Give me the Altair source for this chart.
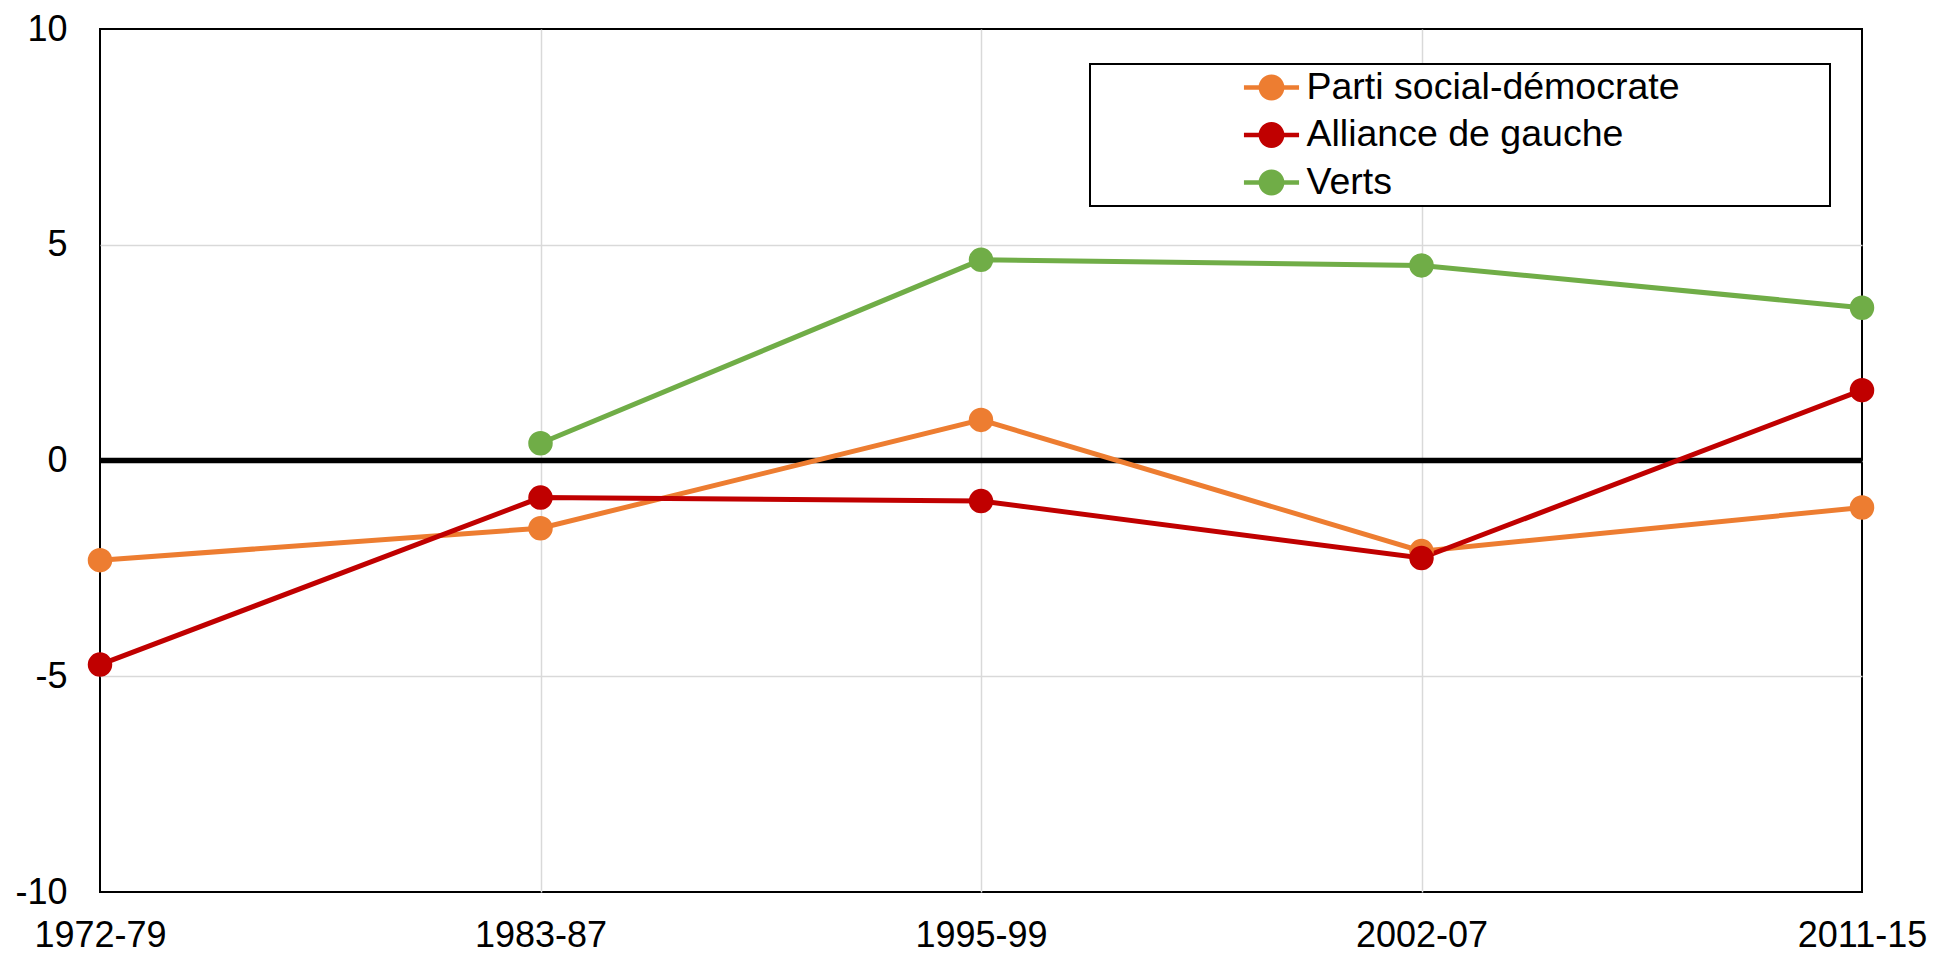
import altair as alt
import pandas as pd

periods = ["1972-79", "1983-87", "1995-99", "2002-07", "2011-15"]
series_names = ["Parti social-démocrate", "Alliance de gauche", "Verts"]
psd = [-2.31, -1.57, 0.94, -2.10, -1.09]
alliance = [-4.73, -0.86, -0.94, -2.26, 1.63]
verts = [None, 0.40, 4.65, 4.52, 3.54]
colors = ["#ED7D31", "#C00000", "#70AD47"]
y_ticks = [-10, -5, 0, 5, 10]
zero_line = [0]

rows = []
for name, vals in zip(series_names, [psd, alliance, verts]):
    for p, v in zip(periods, vals):
        if v is not None:
            rows.append({"period": p, "series": name, "value": v})
df = pd.DataFrame(rows)
zero_df = pd.DataFrame({"y": zero_line})

FONT = "Liberation Sans"
SYMBOL = ("M-1.45,-0.12L1.45,-0.12L1.45,0.12L-1.45,0.12Z "
          "M0.68,0A0.68,0.68,0,1,1,-0.68,0A0.68,0.68,0,1,1,0.68,0Z")
PAD = "\u00a0" * 14 + "\u200b"

x_grid_op = {"condition": {"test": f"datum.value == '{periods[0]}' || datum.value == '{periods[-1]}'",
                           "value": 0}, "value": 1}
y_grid_op = {"condition": {"test": "abs(datum.value) == 10", "value": 0}, "value": 1}

x = alt.X("period:O", sort=periods, title=None,
          scale=alt.Scale(type="point", padding=0),
          axis=alt.Axis(labelAngle=0, grid=True, gridOpacity=x_grid_op,
                        ticks=False, domain=False,
                        labelPadding=26, labelFontSize=36, labelFont=FONT,
                        labelColor="black"))
y = alt.Y("value:Q", title=None,
          scale=alt.Scale(domain=[-10, 10], nice=False, zero=False),
          axis=alt.Axis(values=y_ticks, grid=True, gridOpacity=y_grid_op,
                        labelExpr="datum.value < 0 ? '-' + abs(datum.value) : '' + datum.value",
                        ticks=False, domain=False, labelPadding=33,
                        labelFontSize=36, labelFont=FONT, labelColor="black"))
color_scale = alt.Scale(domain=series_names, range=colors)

base = alt.Chart(df)

lines = base.mark_line(strokeWidth=5).encode(
    x=x, y=y,
    color=alt.Color("series:N", scale=color_scale, legend=None),
    detail="series:N",
)

points = base.mark_circle(size=600, opacity=1).encode(
    x=x, y=y,
    color=alt.Color("series:N", scale=color_scale,
                    legend=alt.Legend(
                        title=None, orient="none", legendX=990, legendY=35,
                        symbolType=SYMBOL, symbolSize=1444,
                        symbolStrokeWidth=0, symbolOpacity=1,
                        symbolOffset=158, labelOffset=16,
                        labelExpr=f"datum.label + '{PAD}'",
                        labelLimit=2000, padding=4.5, rowPadding=9.5,
                        strokeColor="black", fillColor="white",
                        labelFontSize=37.5, labelFont=FONT, labelColor="black")),
)

zero = alt.Chart(zero_df).mark_rule(color="black", strokeWidth=5.5).encode(
    y=alt.Y("y:Q", scale=alt.Scale(domain=[-10, 10], nice=False, zero=False))
)

chart = alt.layer(zero, lines, points).resolve_legend(
    color="independent"
).properties(
    width=1762, height=863,
    autosize=alt.AutoSizeParams(type="none"),
    padding={"left": 92, "top": 21, "right": 67, "bottom": 63},
).configure_view(
    stroke="black", strokeWidth=2
).configure_axis(
    gridColor="#d9d9d9", gridWidth=1.5
).configure_legend(
    strokeWidth=2, cornerRadius=0
)

chart.save("out.html", embed_options={"renderer": "svg", "actions": False})
